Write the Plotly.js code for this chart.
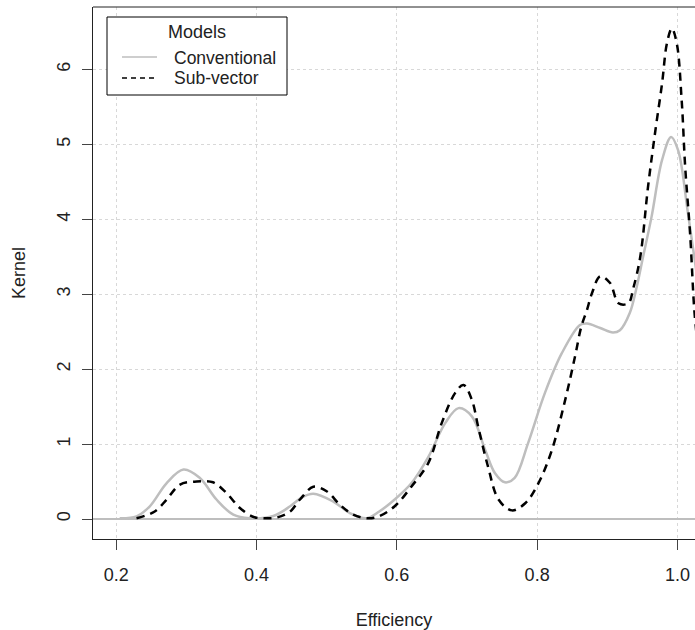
<!DOCTYPE html>
<html>
<head>
<meta charset="utf-8">
<script src="https://cdn.plot.ly/plotly-3.0.1.min.js"></script>
<style>html,body{margin:0;padding:0;background:#fff;}#chart{width:695px;height:630px;}</style>
</head>
<body>
<div id="chart"></div>
<script>
// ---- data ----
const convX = [0.205,0.229,0.248,0.272,0.296,0.319,0.343,0.367,0.39,0.424,0.448,0.465,0.481,0.509,0.533,0.557,0.575,0.597,0.621,0.645,0.669,0.688,0.707,0.726,0.740,0.754,0.768,0.787,0.811,0.835,0.861,0.871,0.890,0.908,0.918,0.932,0.942,0.951,0.963,0.978,0.991,1.001,1.015,1.027];
const convY = [0.01,0.035,0.17,0.48,0.66,0.55,0.26,0.057,0.01,0.04,0.17,0.29,0.337,0.235,0.08,0.01,0.10,0.26,0.48,0.83,1.28,1.48,1.37,0.92,0.61,0.49,0.55,1.01,1.68,2.21,2.59,2.61,2.55,2.49,2.52,2.75,3.10,3.50,4.03,4.79,5.10,4.92,4.08,3.3];
const subX = [0.229,0.255,0.272,0.291,0.315,0.338,0.357,0.376,0.395,0.41,0.429,0.448,0.462,0.481,0.500,0.519,0.538,0.557,0.573,0.597,0.621,0.645,0.664,0.683,0.695,0.707,0.716,0.730,0.745,0.764,0.783,0.802,0.821,0.840,0.854,0.863,0.871,0.878,0.890,0.904,0.916,0.930,0.937,0.947,0.958,0.968,0.978,0.985,0.992,0.999,1.006,1.011,1.018,1.024,1.028];
const subY = [0.01,0.10,0.26,0.46,0.50,0.49,0.35,0.15,0.03,0.01,0.02,0.10,0.26,0.43,0.37,0.19,0.057,0.01,0.03,0.17,0.435,0.75,1.28,1.68,1.79,1.59,1.23,0.70,0.26,0.115,0.21,0.48,0.92,1.59,2.17,2.57,2.79,3.01,3.24,3.15,2.88,2.88,3.08,3.50,4.43,5.15,5.81,6.35,6.55,6.35,5.59,4.70,3.81,2.79,2.4];
const seriesNames = ["Conventional", "Sub-vector"];
const legendTitle = "Models";
const xTicks = [0.2, 0.4, 0.6, 0.8, 1.0];
const xTickText = ["0.2", "0.4", "0.6", "0.8", "1.0"];
const yTicks = [0, 1, 2, 3, 4, 5, 6];
const xTitle = "Efficiency";
const yTitle = "Kernel";

// ---- layout helpers ----
const W = 695, H = 630;
const M = {l: 93, r: 0, t: 7, b: 91};
const pw = W - M.l - M.r, ph = H - M.t - M.b;
const px = v => (v - M.l) / pw;
const py = v => (H - M.b - v) / ph;
const FONT = "Liberation Sans, Arial, sans-serif";
const TXT = "#222222";
const GREY = "#bebebe";

const traces = [
  {x: convX, y: convY, name: seriesNames[0], type: "scatter", mode: "lines",
   line: {color: GREY, width: 2.5, shape: "spline", smoothing: 1}, showlegend: false, hoverinfo: "x+y"},
  {x: subX, y: subY, name: seriesNames[1], type: "scatter", mode: "lines",
   line: {color: "#000000", width: 2.5, dash: "8px,6px", shape: "spline", smoothing: 1}, showlegend: false, hoverinfo: "x+y"}
];

const shapes = [
  // top border of the plot box
  {type: "line", xref: "paper", yref: "paper", x0: 0, x1: 1, y0: 1, y1: 1, line: {color: "#222", width: 1}},
  // legend box
  {type: "rect", xref: "paper", yref: "paper", x0: px(107), x1: px(287), y0: py(17), y1: py(95),
   line: {color: "#000", width: 1}, fillcolor: "#ffffff", layer: "above"},
  {type: "line", xref: "paper", yref: "paper", x0: px(122), x1: px(157), y0: py(57), y1: py(57),
   line: {color: GREY, width: 1.5}, layer: "above"},
  {type: "line", xref: "paper", yref: "paper", x0: px(122), x1: px(157), y0: py(78), y1: py(78),
   line: {color: "#000", width: 1.5, dash: "5px,4px"}, layer: "above"}
];

const annotations = [
  {xref: "paper", yref: "paper", x: px(196.5), y: py(32), text: legendTitle, showarrow: false,
   xanchor: "center", yanchor: "middle", font: {family: FONT, size: 18, color: TXT}},
  {xref: "paper", yref: "paper", x: px(172), y: py(58), text: seriesNames[0], showarrow: false,
   xanchor: "left", yanchor: "middle", font: {family: FONT, size: 17.5, color: TXT}},
  {xref: "paper", yref: "paper", x: px(172), y: py(78), text: seriesNames[1], showarrow: false,
   xanchor: "left", yanchor: "middle", font: {family: FONT, size: 17.5, color: TXT}}
];

const layout = {
  width: W, height: H,
  margin: M,
  paper_bgcolor: "#fff", plot_bgcolor: "#fff",
  font: {family: FONT, size: 18, color: TXT},
  showlegend: false,
  xaxis: {
    range: [0.167, 1.025], tickvals: xTicks, ticktext: xTickText,
    ticks: "outside", ticklen: 10, tickwidth: 1, tickcolor: "#444", ticklabelstandoff: 9,
    showline: true, linecolor: "#222", linewidth: 1,
    showgrid: true, gridcolor: "#d8d8d8", griddash: "dot", gridwidth: 1,
    zeroline: false, automargin: false,
    tickfont: {family: FONT, size: 18, color: TXT},
    title: {text: xTitle, standoff: 30, font: {family: FONT, size: 18, color: TXT}}
  },
  yaxis: {
    range: [-0.267, 6.835], tickvals: yTicks,
    ticks: "outside", ticklen: 10, tickwidth: 1, tickcolor: "#444", tickangle: -90, ticklabelstandoff: 5,
    showline: true, linecolor: "#222", linewidth: 1,
    showgrid: true, gridcolor: "#d8d8d8", griddash: "dot", gridwidth: 1,
    zeroline: true, zerolinecolor: GREY, zerolinewidth: 1.5, automargin: false,
    tickfont: {family: FONT, size: 18, color: TXT},
    title: {text: yTitle, standoff: 23, font: {family: FONT, size: 18, color: TXT}}
  },
  shapes: shapes,
  annotations: annotations
};

Plotly.newPlot("chart", traces, layout, {displayModeBar: false, staticPlot: true});
</script>
</body>
</html>
